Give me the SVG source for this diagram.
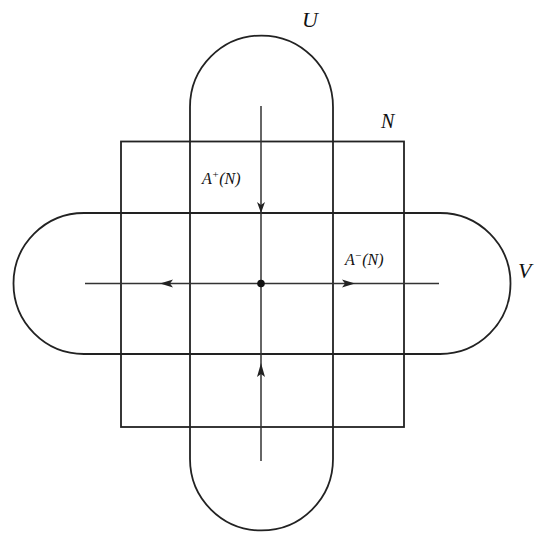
<svg xmlns="http://www.w3.org/2000/svg" width="536" height="533" viewBox="0 0 536 533">
<style>
.s{fill:none;stroke:#222;stroke-width:1.8}
.l{fill:none;stroke:#333;stroke-width:1.5}
.t{font-family:"Liberation Serif",serif;font-style:italic;fill:#111}
.a{fill:#222;stroke:none}
</style>
<rect width="536" height="533" fill="#fff"/>
<g id="U">
<path class="s" d="M190,107 A71.5,71.5 0 0 1 333,107 L333,459 A71.5,71.5 0 0 1 190,459 Z"/>
<text class="t" x="302" y="27" font-size="22">U</text>
</g>
<g id="V">
<path class="s" d="M84,213 L440,213 A70.5,70.5 0 0 1 440,354 L84,354 A70.5,70.5 0 0 1 84,213 Z"/>
<text class="t" x="518" y="278" font-size="22">V</text>
</g>
<g id="N">
<rect class="s" x="121" y="141.5" width="283" height="285.5"/>
<text class="t" x="381" y="128" font-size="20">N</text>
</g>
<g id="connectors">
<line class="l" x1="261" y1="106" x2="261" y2="461"/>
<line class="l" x1="85" y1="283.5" x2="439" y2="283.5"/>
<path class="a" d="M261,213 L257,202 L261,205 L265,202 Z"/>
<path class="a" d="M261,363 L257,377 L261,374 L265,377 Z"/>
<path class="a" d="M160,283.5 L173,279.5 L170,283.5 L173,287.5 Z"/>
<path class="a" d="M355,283.5 L342,279.5 L345,283.5 L342,287.5 Z"/>
</g>
<g id="center">
<circle cx="261" cy="283.5" r="3.8" fill="#111"/>
</g>
<g id="labels">
<text class="t" x="202" y="184" font-size="16">A<tspan font-size="11" dy="-6">+</tspan><tspan dy="6">(N)</tspan></text>
<text class="t" x="345" y="265" font-size="16">A<tspan font-size="11" dy="-6">−</tspan><tspan dy="6">(N)</tspan></text>
</g>
</svg>
